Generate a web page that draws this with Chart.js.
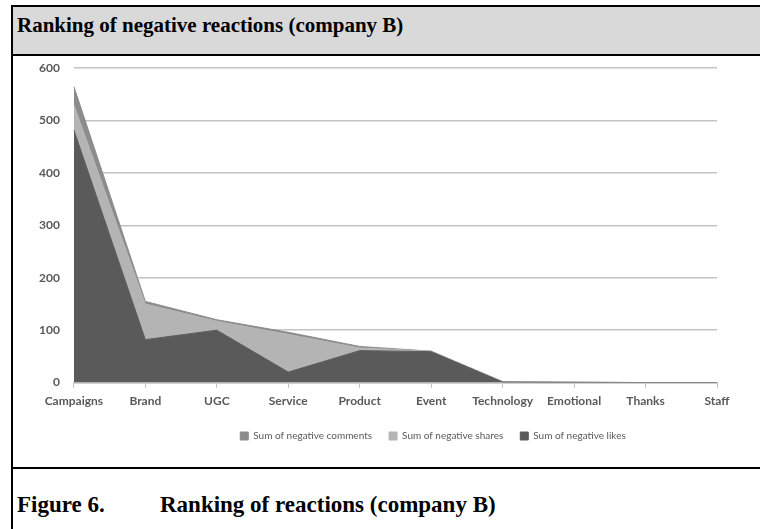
<!DOCTYPE html>
<html>
<head>
<meta charset="utf-8">
<script src="https://cdn.jsdelivr.net/npm/chart.js@4.4.0/dist/chart.umd.min.js"></script>
<style>
  body { margin: 0; width: 760px; height: 529px; background: #fff; position: relative; overflow: hidden; }
  .band { position: absolute; left: 11px; top: 5px; width: 760px; height: 47px; background: #d9d9d9;
          border-top: 2px solid #000; border-bottom: 2px solid #000; }
  .vline { position: absolute; left: 11px; top: 5px; width: 2px; height: 530px; background: #000; }
  .hline { position: absolute; left: 11px; top: 467px; width: 760px; height: 2px; background: #000; }
  .title { position: absolute; left: 17px; top: 13px; font: bold 21px "Liberation Serif", serif; color: #000; white-space: nowrap; }
  .cap { position: absolute; top: 492px; font: bold 23px "Liberation Serif", serif; color: #000; white-space: nowrap; }
  #wrap { position: absolute; left: 13px; top: 47px; width: 838px; height: 412px; }
</style>
</head>
<body>
<div class="band"></div>
<div class="vline"></div>
<div class="hline"></div>
<div class="title">Ranking of negative reactions (company B)</div>
<div class="cap" style="left:17px">Figure 6.</div>
<div class="cap" style="left:160px">Ranking of reactions (company B)</div>
<div id="wrap"><canvas id="chart"></canvas></div>
<script>
const topics = ["Campaigns", "Brand", "UGC", "Service", "Product", "Event", "Technology", "Emotional", "Thanks", "Staff"];
const negLikes = [482, 82, 100, 20, 61, 59, 1, 0, 0, 0];
const negShares = [48, 68, 17, 72, 5, 1, 1, 1, 0, 0];
const negComments = [35, 5, 3, 4, 3, 0, 0, 0, 0, 0];

const tickFont = { family: "Lato", size: 12, weight: "bold" };

new Chart(document.getElementById("chart"), {
  type: "line",
  data: {
    labels: topics,
    datasets: [
      { label: "Sum of negative likes", data: negLikes, backgroundColor: "#5a5a5a", borderColor: "#5a5a5a", fill: "origin" },
      { label: "Sum of negative shares", data: negShares, backgroundColor: "#b4b4b4", borderColor: "#b4b4b4", fill: "-1" },
      { label: "Sum of negative comments", data: negComments, backgroundColor: "#8c8c8c", borderColor: "#8c8c8c", fill: "-1" },
    ],
  },
  options: {
    responsive: true,
    maintainAspectRatio: false,
    animation: false,
    elements: { point: { radius: 0 }, line: { borderWidth: 1, tension: 0 } },
    layout: { padding: { left: 12, right: 10, top: 0, bottom: 8 } },
    plugins: {
      tooltip: { enabled: false },
      legend: {
        position: "bottom",
        reverse: true,
        labels: { color: "#595959", font: { family: "Lato", size: 10 }, boxWidth: 8, boxHeight: 8, padding: 17 },
      },
    },
    scales: {
      x: {
        offset: false,
        grid: { drawOnChartArea: false, color: "#bfbfbf", tickLength: 5 },
        border: { color: "#bfbfbf", width: 1.5 },
        ticks: { color: "#595959", font: tickFont, maxRotation: 0, autoSkip: false, padding: 6 },
      },
      y: {
        stacked: true,
        min: 0,
        max: 600,
        grid: { color: "#c4c4c4", drawTicks: false, lineWidth: 1.5 },
        border: { display: false },
        ticks: { stepSize: 100, color: "#595959", font: tickFont, padding: 14 },
      },
      spacer: {
        position: "right",
        grid: { display: false },
        border: { display: false },
        ticks: { display: false },
        afterFit(scale) { scale.width = 124; },
      },
    },
  },
});
</script>
</body>
</html>
